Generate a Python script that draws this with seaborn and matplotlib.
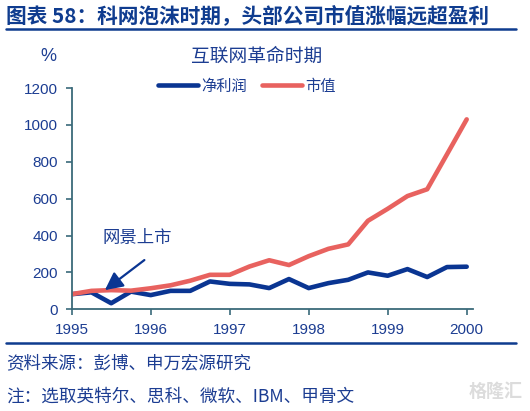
import numpy as np
import pandas as pd
import matplotlib
matplotlib.use("Agg")
import matplotlib.pyplot as plt
import seaborn as sns

# ---- data ----
quarters = [1995.0, 1995.25, 1995.5, 1995.75, 1996.0, 1996.25, 1996.5, 1996.75,
            1997.0, 1997.25, 1997.5, 1997.75, 1998.0, 1998.25, 1998.5, 1998.75,
            1999.0, 1999.25, 1999.5, 1999.75, 2000.0]
net_profit = [82, 92, 33, 96, 77, 100, 100, 151, 138, 135, 115, 164, 115, 142,
              160, 200, 182, 218, 175, 229, 231]
market_cap = [82, 100, 104, 101, 114, 130, 155, 187, 187, 232, 266, 240, 288, 328,
              352, 480, 545, 614, 651, 840, 1030]
series_names = ["净利润", "市值"]
x_ticks = [1995, 1996, 1997, 1998, 1999, 2000]
y_ticks = [0, 200, 400, 600, 800, 1000, 1200]

title = "图表 58：科网泡沫时期，头部公司市值涨幅远超盈利"
subtitle = "互联网革命时期"
annotation = "网景上市"
source = "资料来源：彭博、申万宏源研究"
note = "注：选取英特尔、思科、微软、IBM、甲骨文"

df = pd.DataFrame({
    "t": quarters * 2,
    "v": net_profit + market_cap,
    "s": [series_names[0]] * len(quarters) + [series_names[1]] * len(quarters),
})

sns.set_theme(style="white")
plt.rcParams['font.family'] = ['Noto Sans CJK SC', 'DejaVu Sans']

W, H = 530, 411
fig = plt.figure(figsize=(W / 100, H / 100), dpi=100)

TXT = "#1c3d92"
NAVY = "#0a3592"
RED = "#e8625f"
SPINE = "#3a6a7a"

def fx(px):
    return px / W

def fy(py):
    return 1 - py / H

ax = fig.add_axes([fx(71.7), fy(309.3), fx(473) - fx(71.7), fy(88) - fy(309.3)])

sns.lineplot(data=df, x="t", y="v", hue="s", palette=[NAVY, RED],
             linewidth=3.3, ax=ax, legend=True)
for ln in ax.get_lines():
    ln.set_solid_capstyle("round")
    ln.set_solid_joinstyle("round")

ax.set_xlim(1995, 1995 + (473 - 71.7) / 79.0)
ax.set_ylim(0, 1200)
ax.set_xticks(x_ticks)
ax.set_yticks(y_ticks)
ax.set_xticklabels([str(v) for v in x_ticks], family="Liberation Sans", fontsize=11, color=TXT)
ax.set_yticklabels([str(v) for v in y_ticks], family="Liberation Sans", fontsize=11, color=TXT)
ax.set_xlabel("")
ax.set_ylabel("")
for s in ["top", "right"]:
    ax.spines[s].set_visible(False)
for s in ["left", "bottom"]:
    ax.spines[s].set_color(SPINE)
    ax.spines[s].set_linewidth(1.3)
ax.tick_params(axis="both", which="major", length=4, width=1.2, color=SPINE,
               direction="out", pad=6, left=True, bottom=True)
ax.grid(False)
ax.set_facecolor("white")

# legend
handles, labels = ax.get_legend_handles_labels()
leg = ax.legend(handles, labels, loc="center", bbox_to_anchor=(fx(247), fy(86)),
                bbox_transform=fig.transFigure, ncol=2, frameon=False,
                handlelength=2.6, handletextpad=0.2, columnspacing=1.0,
                prop={"family": "Noto Sans CJK SC", "size": 11})
for t in leg.get_texts():
    t.set_color(TXT)
for h in leg.get_lines():
    h.set_linewidth(3.3)
    h.set_solid_capstyle("round")

# annotation
ax.annotate("", xy=(1995.42, 104), xytext=(1995.92, 267),
            arrowprops=dict(arrowstyle="-|>,head_length=0.9,head_width=0.45",
                            color=NAVY, lw=1.6, shrinkA=0, shrinkB=0))
fig.text(fx(137), fy(238), annotation, ha="center", va="center",
         fontsize=12.5, color=TXT)

# titles and texts
fig.text(fx(6.5), fy(15.5), title, ha="left", va="center", fontsize=14.9,
         fontweight="bold", color="#0f3c8f")
fig.add_artist(plt.Line2D([fx(6), fx(516)], [fy(29.5), fy(29.5)],
                          transform=fig.transFigure, color="#0f3c8f", lw=1.8))
fig.text(fx(48), fy(56), "%", ha="center", va="center", fontsize=13,
         color=TXT, family="Liberation Sans")
fig.text(fx(257), fy(56), subtitle, ha="center", va="center", fontsize=13.5, color=TXT)

fig.add_artist(plt.Line2D([fx(6), fx(516)], [fy(342.5), fy(342.5)],
                          transform=fig.transFigure, color="#0f3c8f", lw=1.8))
fig.text(fx(6.5), fy(363.5), source, ha="left", va="center", fontsize=12.6, color=TXT)
fig.text(fx(6.5), fy(396.5), note, ha="left", va="center", fontsize=12.7, color=TXT)

# watermark
fig.text(fx(523), fy(391), "格隆汇", ha="right", va="center", fontsize=13,
         color="#dcdcdc", fontweight="bold")

fig.savefig("out.png", dpi=100, facecolor="white")
